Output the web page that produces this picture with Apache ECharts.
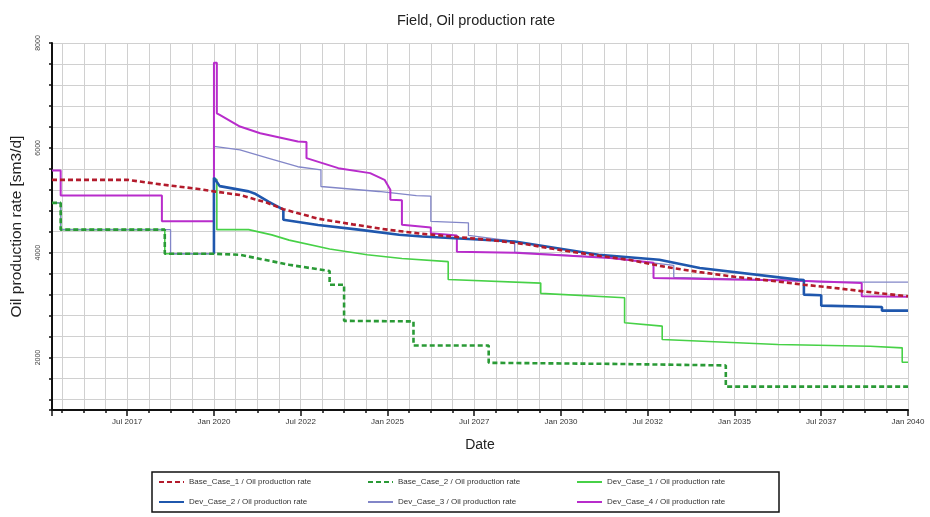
<!DOCTYPE html>
<html>
<head>
<meta charset="utf-8">
<script src="https://cdn.jsdelivr.net/npm/echarts@6/dist/echarts.min.js"></script>
<style>
  html, body { margin: 0; padding: 0; background: #ffffff; }
  #chart { width: 930px; height: 517px; }
</style>
</head>
<body>
<div id="chart"></div>
<script>
// Axis ranges (x in decimal years, y in sm3/d)
const xStart = '2015-05';
const xEnd = '2040-01';
const yMin = 1000;
const yMax = 8000;
const xLabelStep = 2.5;     // years between date labels
const xGridStep = 0.625;    // years between grid lines
const yGridStep = 400;
const yLabelStep = 2000;
const monthLabels = { 0: 'Jan', 6: 'Jul' };

const seriesNames = [
  'Base_Case_1 / Oil production rate',
  'Base_Case_2 / Oil production rate',
  'Dev_Case_1 / Oil production rate',
  'Dev_Case_2 / Oil production rate',
  'Dev_Case_3 / Oil production rate',
  'Dev_Case_4 / Oil production rate'
];

// [date, oil rate] profiles; repeated dates give the vertical steps
const baseCase1 = [
  ['2015-05', 5390], ['2017-07', 5390], ['2018-07', 5300], ['2019-07', 5220], ['2020-01', 5170],
  ['2020-10', 5100], ['2021-07', 4960], ['2022-01', 4830], ['2023-01', 4650], ['2024-01', 4540],
  ['2025-01', 4440], ['2026-01', 4360], ['2027-01', 4300], ['2028-01', 4240], ['2029-01', 4160],
  ['2030-01', 4050], ['2031-01', 3950], ['2032-01', 3860], ['2033-01', 3730], ['2034-01', 3630],
  ['2035-01', 3540], ['2036-01', 3470], ['2037-01', 3390], ['2038-01', 3320], ['2039-01', 3240],
  ['2040-01', 3170]
];

const baseCase2 = [
  ['2015-05', 4950], ['2015-08', 4950], ['2015-08', 4440], ['2018-08', 4440], ['2018-08', 3980],
  ['2020-01', 3980], ['2020-10', 3960], ['2022-03', 3770], ['2023-05', 3650], ['2023-05', 3390],
  ['2023-10', 3390], ['2023-10', 2700], ['2025-10', 2690], ['2025-10', 2230], ['2027-12', 2230],
  ['2027-12', 1900], ['2031-06', 1880], ['2034-10', 1850], ['2034-10', 1445], ['2040-01', 1445]
];

const devCase1 = [
  ['2015-05', 4950], ['2015-08', 4950], ['2015-08', 4440], ['2018-08', 4440], ['2018-08', 3980],
  ['2020-01', 3980], ['2020-01', 5400], ['2020-02', 5400], ['2020-02', 4440], ['2021-01', 4440],
  ['2021-09', 4340], ['2022-03', 4240], ['2023-05', 4070], ['2024-06', 3960], ['2025-06', 3890],
  ['2026-10', 3830], ['2026-10', 3490], ['2029-06', 3420], ['2029-06', 3225], ['2031-11', 3140],
  ['2031-11', 2665], ['2032-12', 2600], ['2032-12', 2345], ['2036-04', 2250], ['2038-12', 2215],
  ['2039-11', 2185], ['2039-11', 1910], ['2040-01', 1910]
];

const devCase2 = [
  ['2020-01', 3980], ['2020-01', 5430], ['2020-03', 5270], ['2021-01', 5170], ['2021-03', 5130],
  ['2021-08', 4970], ['2022-01', 4820], ['2022-01', 4630], ['2023-01', 4530], ['2024-03', 4440],
  ['2025-05', 4343], ['2026-01', 4310], ['2028-09', 4215], ['2031-02', 3960], ['2032-11', 3867],
  ['2034-01', 3710], ['2036-11', 3486], ['2037-01', 3480], ['2037-01', 3200], ['2037-07', 3190],
  ['2037-07', 2990], ['2039-04', 2966], ['2039-04', 2895], ['2040-01', 2895]
];

const devCase3 = [
  ['2015-05', 4950], ['2015-08', 4950], ['2015-08', 4440], ['2018-10', 4440], ['2018-10', 3980],
  ['2020-01', 3980], ['2020-01', 6030], ['2020-10', 5960], ['2021-08', 5800], ['2022-06', 5640],
  ['2023-02', 5580], ['2023-02', 5263], ['2024-10', 5168], ['2025-11', 5090], ['2026-04', 5080],
  ['2026-04', 4596], ['2027-05', 4570], ['2027-05', 4330], ['2028-09', 4215], ['2028-09', 4010],
  ['2031-06', 3900], ['2033-04', 3760], ['2033-04', 3530], ['2036-09', 3470], ['2037-08', 3440],
  ['2040-01', 3440]
];

const devCase4 = [
  ['2015-05', 5570], ['2015-08', 5570], ['2015-08', 5090], ['2018-07', 5090], ['2018-07', 4600],
  ['2020-01', 4600], ['2020-01', 7625], ['2020-02', 7625], ['2020-02', 6660], ['2020-03', 6630],
  ['2020-10', 6406], ['2021-05', 6280], ['2022-06', 6120], ['2022-09', 6110], ['2022-09', 5804],
  ['2023-08', 5613], ['2024-07', 5518], ['2024-12', 5390], ['2025-02', 5200], ['2025-02', 5010],
  ['2025-06', 5000], ['2025-06', 4533], ['2026-04', 4480], ['2026-04', 4370], ['2027-01', 4330],
  ['2027-01', 4020], ['2028-09', 4000], ['2031-06', 3900], ['2032-09', 3810], ['2032-09', 3520],
  ['2034-12', 3490], ['2036-09', 3470], ['2038-09', 3420], ['2038-09', 3170], ['2040-01', 3160]
];

const profiles = [baseCase1, baseCase2, devCase1, devCase2, devCase3, devCase4];
const colors = ['#b31b2c', '#2a9a36', '#47d147', '#1f57ad', '#8286c8', '#b82ccb'];
const widths = [2.6, 2.6, 1.6, 2.6, 1.3, 2.0];
const dashed = [true, true, false, false, false, false];
const zOrder = [9, 8, 3, 6, 4, 5];

// 'YYYY-MM' -> decimal year
function toYear(s) {
  const [y, m] = s.split('-').map(Number);
  return y + (m - 1) / 12;
}

function dateLabel(v) {
  const year = Math.floor(v + 1e-6);
  const month = Math.round((v - year) * 12);
  const off = Math.abs(v / xLabelStep - Math.round(v / xLabelStep));
  if (off > 1e-6 || !(month in monthLabels)) return '';
  return monthLabels[month] + ' ' + year;
}

const font = 'Liberation Sans, Arial, sans-serif';
const xMin = toYear(xStart);
const xMax = toYear(xEnd);

const chart = echarts.init(document.getElementById('chart'), null, { renderer: 'canvas' });

chart.setOption({
  backgroundColor: '#ffffff',
  animation: false,
  title: {
    text: 'Field, Oil production rate',
    left: 392,
    top: 8,
    textStyle: { fontFamily: font, fontSize: 14.5, fontWeight: 'normal', color: '#222' }
  },
  legend: {
    data: seriesNames,
    left: 152,
    top: 472,
    width: 640,
    orient: 'horizontal',
    padding: [5, 4, 5, 6],
    itemGap: 10,
    itemWidth: 25,
    itemHeight: 10,
    itemStyle: { opacity: 0 },
    borderColor: '#111',
    borderWidth: 1.5,
    textStyle: { fontFamily: font, fontSize: 8, color: '#333', width: 168, overflow: 'truncate', lineHeight: 10 }
  },
  grid: { left: 52, right: 22, top: 43, bottom: 107, containLabel: false },
  xAxis: [
    {
      type: 'value',
      position: 'bottom',
      min: xMin,
      max: xMax,
      minInterval: xGridStep,
      maxInterval: xGridStep,
      axisLine: { show: true, lineStyle: { color: '#111', width: 2 } },
      axisTick: { show: true, length: 3, lineStyle: { color: '#111', width: 1.5 } },
      axisLabel: { show: false },
      splitLine: { show: true, lineStyle: { color: '#d0d0d0', width: 1 } },
      name: 'Date',
      nameLocation: 'middle',
      nameGap: 28,
      nameTextStyle: { fontFamily: font, fontSize: 14, color: '#222' }
    },
    {
      type: 'value',
      position: 'bottom',
      offset: 0,
      min: xMin,
      max: xMax,
      minInterval: xLabelStep,
      maxInterval: xLabelStep,
      axisLine: { show: false },
      axisTick: { show: true, length: 6, lineStyle: { color: '#111', width: 1.5 } },
      axisLabel: { show: true, margin: 8, formatter: dateLabel, fontFamily: font, fontSize: 8, color: '#333' },
      splitLine: { show: false }
    }
  ],
  yAxis: {
    type: 'value',
    min: yMin,
    max: yMax,
    minInterval: yGridStep,
    maxInterval: yGridStep,
    axisLine: { show: true, lineStyle: { color: '#111', width: 2 } },
    axisTick: { show: true, length: 3, lineStyle: { color: '#111', width: 1.5 } },
    axisLabel: {
      show: true,
      rotate: 90,
      margin: 10,
      fontFamily: font,
      fontSize: 7,
      color: '#444',
      formatter: v => (v % yLabelStep === 0 ? String(v) : '')
    },
    splitLine: { show: true, lineStyle: { color: '#d0d0d0', width: 1 } },
    name: 'Oil production rate [sm3/d]',
    nameLocation: 'middle',
    nameGap: 27,
    nameTextStyle: { fontFamily: font, fontSize: 15.5, color: '#222' }
  },
  series: profiles.map((p, i) => ({
    name: seriesNames[i],
    type: 'line',
    xAxisIndex: 0,
    symbol: 'none',
    z: zOrder[i],
    clip: true,
    lineStyle: { color: colors[i], width: widths[i], type: dashed[i] ? [5, 3] : 'solid' },
    itemStyle: { color: colors[i] },
    data: p.map(d => [toYear(d[0]), d[1]])
  }))
});
</script>
</body>
</html>
